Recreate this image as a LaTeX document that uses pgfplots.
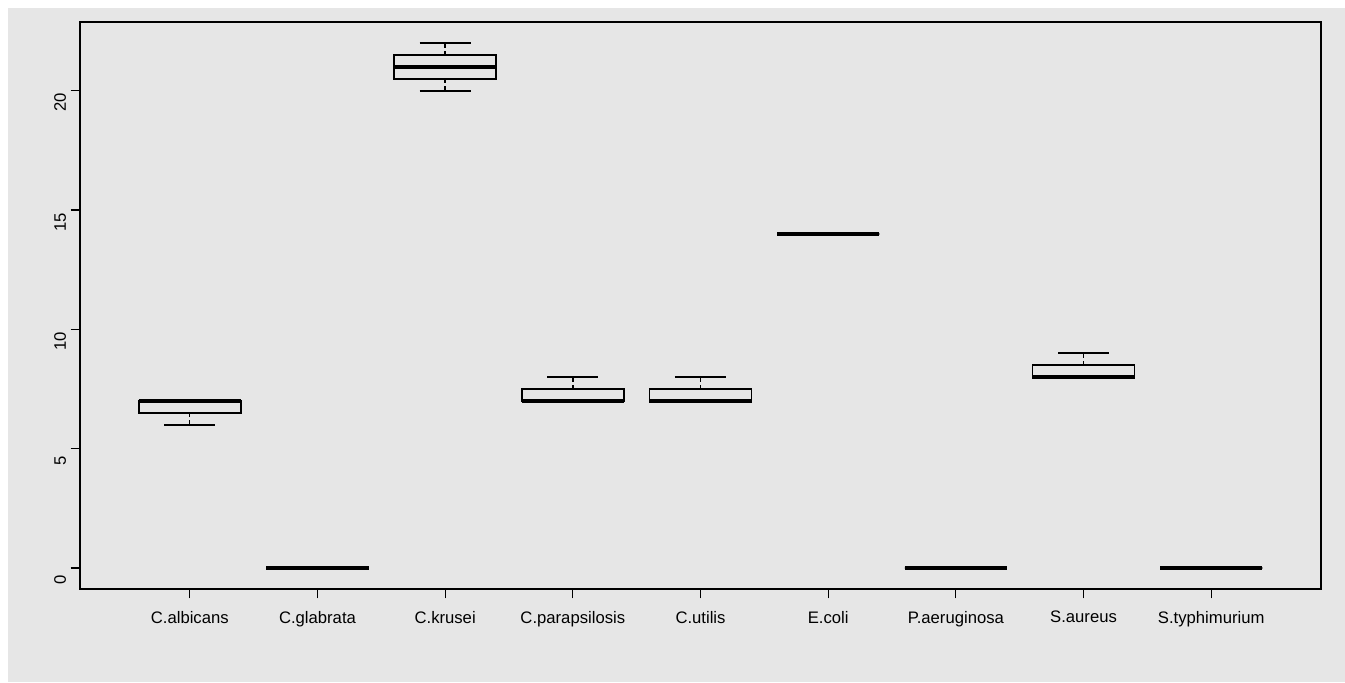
\documentclass[border=0pt]{standalone}
\usepackage{pgfplots}
\pgfplotsset{compat=1.18}
\usepgfplotslibrary{statistics}
\usepackage{fontspec}
\setmainfont{Liberation Sans}
\definecolor{bggrey}{RGB}{230,230,230}
\pgfplotsset{
  rbox/.style={
    boxplot prepared={#1},
    draw=black, line width=1.2pt, solid,
  },
}
\begin{document}
\begin{tikzpicture}
\fill[white] (0,0) rectangle (1008.75pt,511.5pt);
\fill[bggrey] (6pt,0) rectangle (1008.75pt,505.5pt);
\begin{axis}[
  at={(60pt,69.75pt)}, anchor=south west,
  scale only axis, width=930.75pt, height=425.25pt,
  xmin=0.14, xmax=9.86, ymin=-0.88, ymax=22.88,
  axis line style={line width=1.1pt},
  tick align=outside, major tick length=7pt,
  tick style={black, line width=0.9pt},
  xtick pos=bottom, ytick pos=left,
  xtick={1,...,9},
  xticklabels={C.albicans,C.glabrata,C.krusei,C.parapsilosis,C.utilis,E.coli,P.aeruginosa,S.aureus,S.typhimurium},
  ytick={0,5,10,15,20},
  x tick label style={font=\fontsize{12.5}{14}\selectfont, yshift=-6pt},
  y tick label style={font=\fontsize{12.5}{14}\selectfont, rotate=90, anchor=south, xshift=-9pt},
  /pgf/number format/assume math mode=true,
  boxplot/draw direction=y,
  boxplot/box extend=0.8,
  boxplot/whisker extend=0.4,
  boxplot/every median/.style={line width=3pt},
  boxplot/draw/lower whisker/.code={%
    \draw[line width=1pt, dash pattern=on 3pt off 2.5pt]
      (boxplot box cs:\pgfplotsboxplotvalue{lower quartile},0.5)
      -- (boxplot box cs:\pgfplotsboxplotvalue{lower whisker},0.5);
    \draw[line width=1.4pt]
      (boxplot whisker cs:\pgfplotsboxplotvalue{lower whisker},0)
      -- (boxplot whisker cs:\pgfplotsboxplotvalue{lower whisker},1);
  },
  boxplot/draw/upper whisker/.code={%
    \draw[line width=1pt, dash pattern=on 3pt off 2.5pt]
      (boxplot box cs:\pgfplotsboxplotvalue{upper quartile},0.5)
      -- (boxplot box cs:\pgfplotsboxplotvalue{upper whisker},0.5);
    \draw[line width=1.4pt]
      (boxplot whisker cs:\pgfplotsboxplotvalue{upper whisker},0)
      -- (boxplot whisker cs:\pgfplotsboxplotvalue{upper whisker},1);
  },
]
% C.albicans
\addplot[rbox={draw position=1, lower whisker=6, lower quartile=6.5, median=7, upper quartile=7, upper whisker=7}] coordinates {};
% C.glabrata
\addplot[rbox={draw position=2, lower whisker=0, lower quartile=0, median=0, upper quartile=0, upper whisker=0}] coordinates {};
% C.krusei
\addplot[rbox={draw position=3, lower whisker=20, lower quartile=20.5, median=21, upper quartile=21.5, upper whisker=22}] coordinates {};
% C.parapsilosis
\addplot[rbox={draw position=4, lower whisker=7, lower quartile=7, median=7, upper quartile=7.5, upper whisker=8}] coordinates {};
% C.utilis
\addplot[rbox={draw position=5, lower whisker=7, lower quartile=7, median=7, upper quartile=7.5, upper whisker=8}] coordinates {};
% E.coli
\addplot[rbox={draw position=6, lower whisker=14, lower quartile=14, median=14, upper quartile=14, upper whisker=14}] coordinates {};
% P.aeruginosa
\addplot[rbox={draw position=7, lower whisker=0, lower quartile=0, median=0, upper quartile=0, upper whisker=0}] coordinates {};
% S.aureus
\addplot[rbox={draw position=8, lower whisker=8, lower quartile=8, median=8, upper quartile=8.5, upper whisker=9}] coordinates {};
% S.typhimurium
\addplot[rbox={draw position=9, lower whisker=0, lower quartile=0, median=0, upper quartile=0, upper whisker=0}] coordinates {};
\end{axis}
\end{tikzpicture}
\end{document}
